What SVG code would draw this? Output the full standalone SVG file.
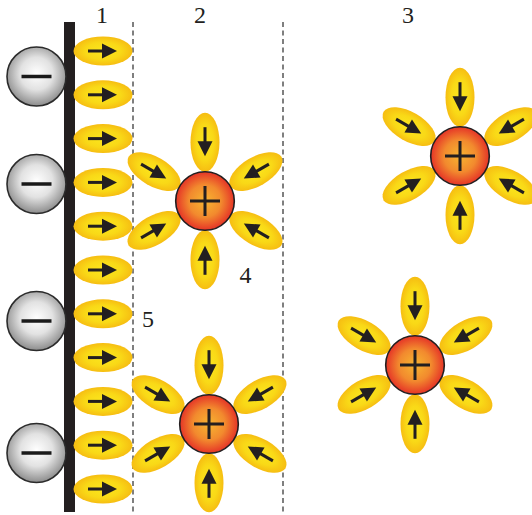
<svg xmlns="http://www.w3.org/2000/svg" xmlns:xlink="http://www.w3.org/1999/xlink" width="532" height="515" viewBox="0 0 532 515">
  <style>
    .lbl { font-family: "Liberation Serif", "DejaVu Serif", serif; font-size: 24px; fill: #231f20; text-anchor: middle; }
    .sep { stroke: #555555; stroke-width: 1.5; stroke-dasharray: 5 3.5; fill: none; }
    .ink { stroke: #231f20; fill: none; }
  </style>
  <defs>
    <radialGradient id="gWater" cx="0.5" cy="0.5" r="0.5">
      <stop offset="0" stop-color="#fbe61e"/>
      <stop offset="0.6" stop-color="#f9d917"/>
      <stop offset="1" stop-color="#f6bd12"/>
    </radialGradient>
    <radialGradient id="gCation" cx="0.5" cy="0.5" r="0.5">
      <stop offset="0" stop-color="#f7b531"/>
      <stop offset="0.55" stop-color="#f28a2e"/>
      <stop offset="1" stop-color="#e53427"/>
    </radialGradient>
    <radialGradient id="gAnion" cx="0.5" cy="0.45" r="0.55">
      <stop offset="0" stop-color="#ffffff"/>
      <stop offset="0.5" stop-color="#e2e2e2"/>
      <stop offset="1" stop-color="#8c8c8c"/>
    </radialGradient>
    <!-- water dipole: ellipse with arrow pointing along +x -->
    <g id="dipole">
      <ellipse cx="0" cy="0" rx="29.5" ry="14.5" fill="url(#gWater)"/>
      <line x1="-15" y1="0" x2="1" y2="0" stroke="#231f20" stroke-width="3"/>
      <path d="M -1 -7.5 L 14 0 L -1 7.5 Z" fill="#231f20"/>
    </g>
    <!-- cation core -->
    <g id="cation">
      <circle cx="0" cy="0" r="29.3" fill="url(#gCation)" stroke="#231f20" stroke-width="1.6"/>
      <path d="M -15 0 H 15 M 0 -15 V 15" stroke="#231f20" stroke-width="3"/>
    </g>
    <!-- hydrated cation: six dipoles pointing at the core -->
    <g id="hydrated">
      <use xlink:href="#dipole" transform="rotate(90) translate(-58.8 0)"/>
      <use xlink:href="#dipole" transform="rotate(150) translate(-58.8 0)"/>
      <use xlink:href="#dipole" transform="rotate(210) translate(-58.8 0)"/>
      <use xlink:href="#dipole" transform="rotate(270) translate(-58.8 0)"/>
      <use xlink:href="#dipole" transform="rotate(330) translate(-58.8 0)"/>
      <use xlink:href="#dipole" transform="rotate(30) translate(-58.8 0)"/>
      <use xlink:href="#cation"/>
    </g>
    <g id="anion">
      <circle cx="0" cy="0" r="29.5" fill="url(#gAnion)" stroke="#2b2b2b" stroke-width="1.6"/>
      <line x1="-15" y1="0" x2="15" y2="0" stroke="#1a1a1a" stroke-width="3.5"/>
    </g>
  </defs>

  <rect width="532" height="515" fill="#ffffff"/>

  <!-- layer boundaries -->
  <g id="connectors">
    <line class="sep" x1="133" y1="22" x2="133" y2="512"/>
    <line class="sep" x1="283" y1="22" x2="283" y2="512"/>
  </g>

  <!-- electrode surface -->
  <g id="electrode">
    <rect x="64" y="22" width="11" height="490" fill="#231f20"/>
  </g>

  <!-- adsorbed anions -->
  <g id="anions">
    <use xlink:href="#anion" x="36.5" y="76.5"/>
    <use xlink:href="#anion" x="36.5" y="184"/>
    <use xlink:href="#anion" x="36.5" y="321"/>
    <use xlink:href="#anion" x="36.5" y="453"/>
  </g>

  <!-- oriented water layer -->
  <g id="water-layer">
    <use xlink:href="#dipole" x="103" y="51"/>
    <use xlink:href="#dipole" x="103" y="94.8"/>
    <use xlink:href="#dipole" x="103" y="138.6"/>
    <use xlink:href="#dipole" x="103" y="182.4"/>
    <use xlink:href="#dipole" x="103" y="226.2"/>
    <use xlink:href="#dipole" x="103" y="270"/>
    <use xlink:href="#dipole" x="103" y="313.8"/>
    <use xlink:href="#dipole" x="103" y="357.6"/>
    <use xlink:href="#dipole" x="103" y="401.4"/>
    <use xlink:href="#dipole" x="103" y="445.2"/>
    <use xlink:href="#dipole" x="103" y="489"/>
  </g>

  <!-- hydrated cations -->
  <g id="cation-1"><use xlink:href="#hydrated" transform="translate(205 201)"/></g>
  <g id="cation-2"><use xlink:href="#hydrated" transform="translate(209 424)"/></g>
  <g id="cation-3"><use xlink:href="#hydrated" transform="translate(460 156)"/></g>
  <g id="cation-4"><use xlink:href="#hydrated" transform="translate(415 365)"/></g>

  <!-- labels -->
  <g id="labels">
    <text class="lbl" x="102" y="22.7">1</text>
    <text class="lbl" x="200" y="22.7">2</text>
    <text class="lbl" x="408" y="22.7">3</text>
    <text class="lbl" x="245.5" y="282.7">4</text>
    <text class="lbl" x="148" y="327">5</text>
  </g>
</svg>
